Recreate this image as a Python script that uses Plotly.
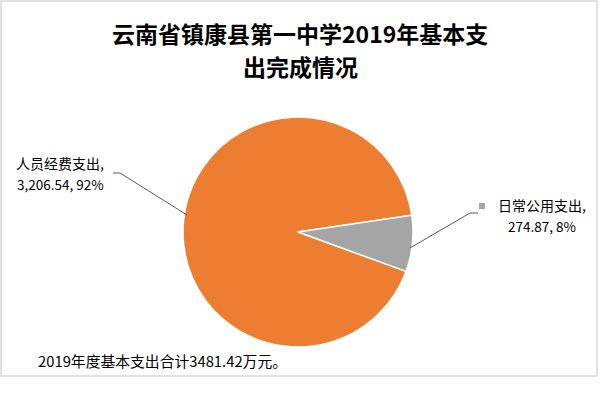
import plotly.graph_objects as go

categories = ["人员经费支出", "日常公用支出"]
values = [3206.54, 274.87]
percents = ["92%", "8%"]
colors = ["#ED7D31", "#A5A5A5"]
title_lines = ["云南省镇康县第一中学2019年基本支", "出完成情况"]
note_text = "2019年度基本支出合计3481.42万元。"

W, H = 600, 395
def px(x): return x / W
def py(y): return 1 - y / H

fig = go.Figure()
fig.add_trace(go.Pie(
    labels=categories, values=values,
    marker=dict(colors=colors, line=dict(color="white", width=1.5)),
    textinfo="none", sort=False, direction="clockwise", rotation=110,
    hoverinfo="label+value+percent",
    domain=dict(x=[px(183), px(413)], y=[py(347), py(117)]),
    showlegend=False,
))

font_cjk = "Noto Sans CJK SC, sans-serif"
ann = []
for line, yy in zip(title_lines, [33, 66]):
    ann.append(dict(text="<b>" + line + "</b>", x=0.5, y=py(yy), xref="paper", yref="paper",
                    showarrow=False, font=dict(family=font_cjk, size=23, color="#000"),
                    xanchor="center", yanchor="middle"))

def fmt(v):
    return f"{v:,.2f}"

label_pos = [(60, 163, 184), (542, 205, 226)]
for i, (cx, y1, y2) in enumerate(label_pos):
    ann.append(dict(text=categories[i] + ",", x=px(cx), y=py(y1), xref="paper", yref="paper",
                    showarrow=False, font=dict(family=font_cjk, size=14, color="#000"),
                    xanchor="center", yanchor="middle"))
    ann.append(dict(text=fmt(values[i]) + ", " + percents[i], x=px(cx), y=py(y2),
                    xref="paper", yref="paper", showarrow=False,
                    font=dict(family=font_cjk, size=13.5, color="#000"),
                    xanchor="center", yanchor="middle"))

ann.append(dict(text=note_text, x=px(36), y=py(360), xref="paper", yref="paper",
                showarrow=False, font=dict(family=font_cjk, size=14.8, color="#000"),
                xanchor="left", yanchor="middle"))

shapes = [
    dict(type="rect", xref="paper", yref="paper", x0=px(1), x1=px(597), y0=py(376), y1=py(1),
         line=dict(color="#D9D9D9", width=1.5)),
    dict(type="path", xref="paper", yref="paper",
         path=f"M {px(113)},{py(173)} L {px(120)},{py(173)} L {px(187)},{py(215)}",
         line=dict(color="#595959", width=1)),
    dict(type="path", xref="paper", yref="paper",
         path=f"M {px(410)},{py(248)} L {px(470)},{py(213)} L {px(478)},{py(213)}",
         line=dict(color="#595959", width=1)),
    dict(type="rect", xref="paper", yref="paper", x0=px(479), x1=px(485), y0=py(209), y1=py(203),
         fillcolor=colors[1], line=dict(width=0)),
]

fig.update_layout(width=W, height=H, margin=dict(l=0, r=0, t=0, b=0),
                  paper_bgcolor="white", plot_bgcolor="white",
                  annotations=ann, shapes=shapes)
fig.write_html("out.html")
